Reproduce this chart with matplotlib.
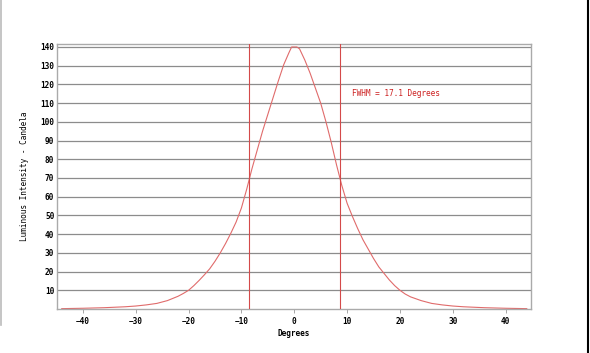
import matplotlib

matplotlib.use("Agg")
import matplotlib.pyplot as plt
from matplotlib.lines import Line2D

# beam profile
angles = [-44, -40, -36, -32, -30, -28, -26, -24, -22, -21, -20, -19, -18,
          -17, -16, -15, -14, -13, -12, -11, -10, -9, -8, -7, -6, -5, -4, -3,
          -2, -1, -0.5, 0.5, 1, 2, 3, 4, 5, 6, 7, 8, 9, 10, 11, 12, 13, 14, 15,
          16, 17, 18, 19, 20, 21, 22, 24, 26, 28, 30, 32, 36, 40, 44]
intensity = [0.2, 0.4, 0.7, 1.2, 1.6, 2.2, 3.0, 4.5, 6.8, 8.3, 10.0, 12.5,
             15.3, 18.3, 21.5, 25.5, 30.0, 35.0, 40.5, 46.5, 54.0, 64.0,
             75.0, 85.0, 95.0, 104.0, 113.0, 122.0, 130.5, 137.0, 140.0,
             140.0, 139.0, 133.0, 126.0, 118.0, 110.0, 100.0, 89.0, 77.0,
             66.0, 56.5, 49.5, 43.0, 37.0, 32.0, 27.0, 22.5, 19.0, 15.5, 12.5,
             10.0, 8.0, 6.5, 4.5, 3.0, 2.2, 1.6, 1.2, 0.7, 0.4, 0.2]
fwhm_edges = [-8.55, 8.6]
fwhm_text = "FWHM = 17.1 Degrees"
x_ticks = [-40, -30, -20, -10, 0, 10, 20, 30, 40]
y_ticks = [10, 20, 30, 40, 50, 60, 70, 80, 90, 100, 110, 120, 130, 140]

MONO = "DejaVu Sans Mono"
GRID = "#8c8c8c"
CURVE = "#e06b6b"
RED = "#d44a4a"

fig = plt.figure(figsize=(5.9, 3.53), dpi=100)
ax = fig.add_axes([0.0966, 0.1246, 0.8034, 0.7508])

ax.plot(angles, intensity, color=CURVE, lw=0.8)
for e in fwhm_edges:
    ax.axvline(e, color=RED, lw=0.8, zorder=3)

ax.set_xlim(-44.9, 44.8)
ax.set_ylim(0, 141.6)
ax.set_xticks(x_ticks)
ax.set_yticks(y_ticks)
ax.yaxis.grid(True, color=GRID, lw=0.9)
ax.set_axisbelow(True)

ax.tick_params(axis="x", length=3, width=0.6, color="#999999", pad=3,
               labelsize=5.6)
ax.tick_params(axis="y", length=0, pad=2, labelsize=5.6)
for lab in ax.get_xticklabels() + ax.get_yticklabels():
    lab.set_fontfamily(MONO)
    lab.set_fontweight("bold")

for sp in ax.spines.values():
    sp.set_color("#aaaaaa")
    sp.set_linewidth(1.0)

ax.text(10.9, 115.4, fwhm_text, color="#cc1f1f", fontsize=5.6, family=MONO,
        ha="left", va="center")

ax.set_xlabel("Degrees", family=MONO, fontsize=5.6, fontweight="bold",
              labelpad=2)
ax.set_ylabel("Luminous Intensity - Candela", family=MONO, fontsize=5.6,
              labelpad=8)

# frame edges seen on the reference image
fig.add_artist(Line2D([0.002, 0.002], [0.08, 1.0], color="#bbbbbb", lw=1.2,
                      transform=fig.transFigure))
fig.add_artist(Line2D([0.996, 0.996], [0.0, 1.0], color="black", lw=1.5,
                      transform=fig.transFigure))

fig.savefig("out.png", dpi=100)
